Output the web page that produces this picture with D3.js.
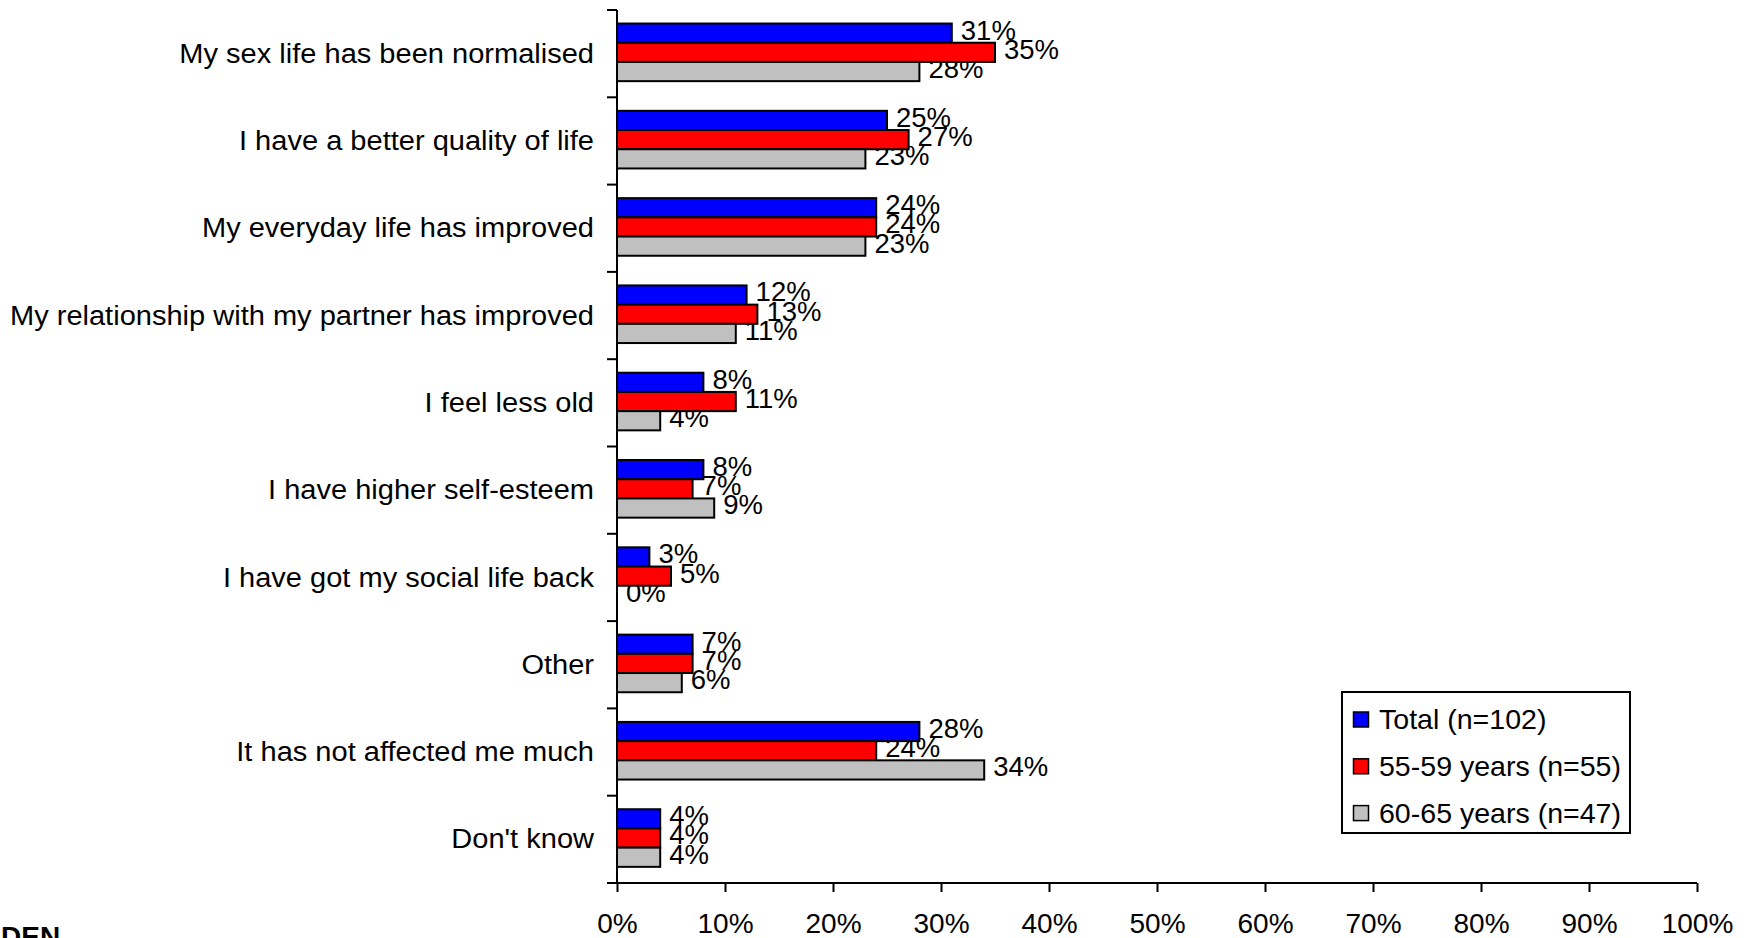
<!DOCTYPE html>
<html>
<head>
<meta charset="utf-8">
<script src="https://cdn.jsdelivr.net/npm/d3@7/dist/d3.min.js"></script>
<style>
  html, body { margin: 0; padding: 0; background: #fff; overflow: hidden; }
  svg { display: block; font-family: "Liberation Sans", Arial, sans-serif; }
</style>
</head>
<body>
<svg id="chart" width="1749" height="938"></svg>
<script>
// Survey answers (share of respondents) by age group
const categories = [
  "My sex life has been normalised",
  "I have a better quality of life",
  "My everyday life has improved",
  "My relationship with my partner has improved",
  "I feel less old",
  "I have higher self-esteem",
  "I have got my social life back",
  "Other",
  "It has not affected me much",
  "Don't know"
];
const seriesNames = ["Total (n=102)", "55-59 years (n=55)", "60-65 years (n=47)"];
const totalValues = [31, 25, 24, 12, 8, 8, 3, 7, 28, 4];
const age5559Values = [35, 27, 24, 13, 11, 7, 5, 7, 24, 4];
const age6065Values = [28, 23, 23, 11, 4, 9, 0, 6, 34, 4];
const xTicks = [0, 10, 20, 30, 40, 50, 60, 70, 80, 90, 100];
const footerText = "DEN";

const seriesValues = [totalValues, age5559Values, age6065Values];
const colors = ["#0000ff", "#ff0000", "#c0c0c0"];

const svg = d3.select("#chart");
const FONT = 28;

// place a text at (px, py) with a slight horizontal widening of the glyphs
function placeText(sel, px, py, sx) {
  sel.attr("transform", `translate(${px},${py}) scale(${sx},1)`);
  return sel;
}

const x = d3.scaleLinear().domain([0, 100]).range([617, 1697]);
const y = d3.scaleBand().domain(categories).range([10, 883]).paddingInner(0).paddingOuter(0);
const bw = y.bandwidth();
const sub = d3.scaleBand().domain(d3.range(3)).range([bw * 0.155, bw * 0.815]).padding(0);

const rows = categories.map((c, i) => ({
  cat: c,
  vals: seriesValues.map((s, k) => ({ k, v: s[i] }))
}));

// value labels (drawn beneath the bars)
const labelG = svg.append("g");
rows.forEach(r => {
  r.vals.forEach(d => {
    const t = labelG.append("text")
      .attr("dy", "0.36em")
      .attr("font-size", 27.5)
      .attr("fill", "#000")
      .text(d.v + "%");
    placeText(t, x(d.v) + 9, y(r.cat) + sub(d.k) + sub.bandwidth() / 2 - 3.5, 1.0);
  });
});

// bars
const barG = svg.append("g");
rows.forEach(r => {
  barG.selectAll(null)
    .data(r.vals)
    .join("rect")
    .attr("x", x(0))
    .attr("y", d => y(r.cat) + sub(d.k))
    .attr("width", d => x(d.v) - x(0))
    .attr("height", sub.bandwidth())
    .attr("fill", d => colors[d.k])
    .attr("stroke", "#000")
    .attr("stroke-width", 2);
});

// y axis: line with ticks at the category boundaries
const yAxisG = svg.append("g");
yAxisG.append("line")
  .attr("x1", x(0)).attr("x2", x(0))
  .attr("y1", y.range()[0]).attr("y2", y.range()[1])
  .attr("stroke", "#000").attr("stroke-width", 2);
const boundaries = categories.map(c => y(c)).concat([y.range()[1]]);
yAxisG.selectAll("line.tick")
  .data(boundaries)
  .join("line")
  .attr("class", "tick")
  .attr("x1", x(0) - 10).attr("x2", x(0))
  .attr("y1", d => d).attr("y2", d => d)
  .attr("stroke", "#000").attr("stroke-width", 2);
yAxisG.selectAll("text")
  .data(categories)
  .join("text")
  .attr("dy", "0.36em")
  .attr("text-anchor", "end")
  .attr("font-size", FONT)
  .attr("fill", "#000")
  .text(d => d)
  .each(function (d) { placeText(d3.select(this), x(0) - 23, y(d) + bw / 2 - 1, 1.037); });

// x axis
const xAxis = d3.axisBottom(x)
  .tickValues(xTicks)
  .tickSize(9)
  .tickPadding(21)
  .tickFormat(d => d + "%");
const xAxisG = svg.append("g")
  .attr("transform", `translate(0,${y.range()[1]})`)
  .call(xAxis);
xAxisG.select(".domain").attr("stroke", "#000").attr("stroke-width", 2)
  .attr("d", `M${x(0) - 10},0H${x(100)}`);
xAxisG.selectAll(".tick line").attr("stroke", "#000").attr("stroke-width", 2);
xAxisG.selectAll(".tick text")
  .attr("font-size", FONT)
  .attr("font-family", "Liberation Sans, Arial, sans-serif")
  .attr("fill", "#000");

// legend
const lg = svg.append("g").attr("transform", "translate(1342,692)");
lg.append("rect")
  .attr("width", 288).attr("height", 141)
  .attr("fill", "#fff").attr("stroke", "#000").attr("stroke-width", 2);
seriesNames.forEach((name, k) => {
  const cy = 27.5 + k * 46.8;
  lg.append("rect")
    .attr("x", 11.5).attr("y", cy - 7.5)
    .attr("width", 15).attr("height", 15)
    .attr("fill", colors[k]).attr("stroke", "#000").attr("stroke-width", 1.5);
  const t = lg.append("text")
    .attr("dy", "0.36em")
    .attr("font-size", FONT)
    .attr("fill", "#000")
    .text(name);
  placeText(t, 37, cy - 0.5, 1.02);
});

// footer text at the lower left edge
svg.append("text")
  .attr("x", 1).attr("y", 946)
  .attr("font-size", 28)
  .attr("font-weight", "bold")
  .attr("fill", "#000")
  .text(footerText);
</script>
</body>
</html>
